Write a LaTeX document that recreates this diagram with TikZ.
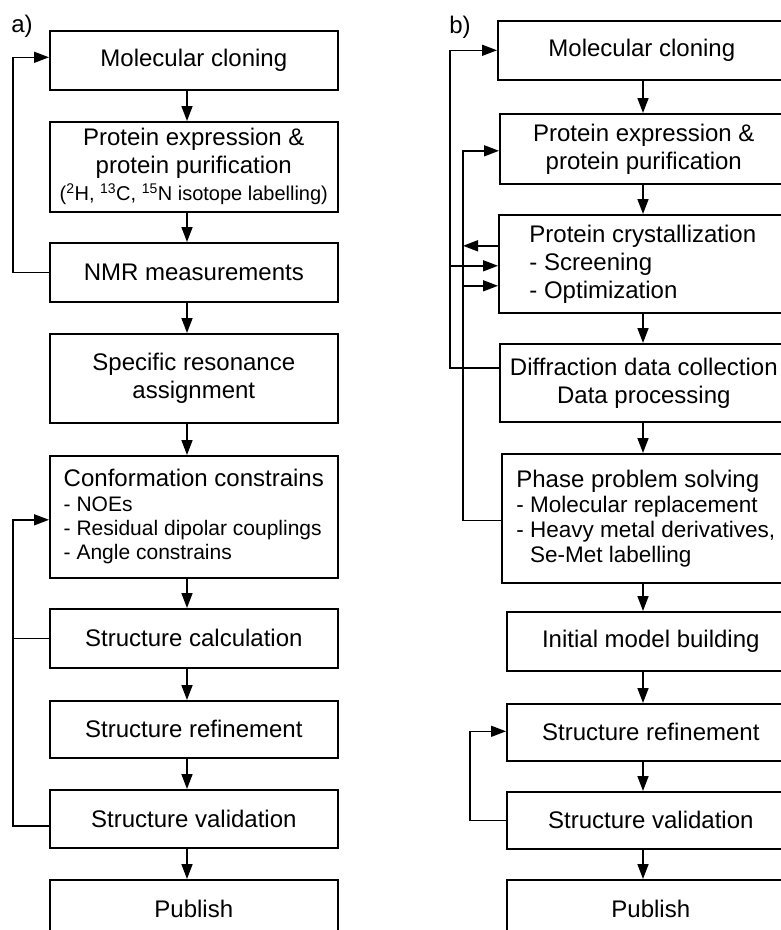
\documentclass[tikz,border=0pt]{standalone}
\usepackage{fontspec}
\setmainfont{Liberation Sans}
\usetikzlibrary{arrows.meta}
\newcommand{\nmrsub}{\fontsize{21}{24}\selectfont}
\newcommand{\xraysub}{\fontsize{22.5}{25}\selectfont}

\begin{document}
\begin{tikzpicture}[x=1pt,y=-1pt,
        box/.style={draw,line width=1.6pt,anchor=north west,minimum width=288pt,
            inner sep=0pt,align=center,font=\fontsize{24}{28}\selectfont},
        flow/.style={line width=1.6pt,-{Triangle[length=15pt,width=11pt]}},
        link/.style={line width=1.6pt}]
        \useasboundingbox (0,0) rectangle (781,930);
        \clip (0,0) rectangle (781,930);
        %% labels
        \node[font=\fontsize{24}{28}\selectfont] (la) at (22,26) {a)};
        \node[font=\fontsize{24}{28}\selectfont] (lb) at (460,27) {b)};
        %% left column (NMR)
        \node[box,minimum height=59pt] (lmc) at (49,30) {Molecular cloning};
        \node[box,minimum height=90pt] (lpe) at (49,121) {Protein expression \&\\ protein purification\\[-1pt]
            \fontsize{20}{24}\selectfont(\textsuperscript{2}H, \textsuperscript{13}C, \textsuperscript{15}N isotope labelling)};
        \node[box,minimum height=59pt] (lnmr) at (49,242) {NMR measurements};
        \node[box,minimum height=89pt] (lsra) at (49,333) {Specific resonance\\ assignment};
        \node[box,minimum height=122pt,align=left] (lcc) at (49,455) {Conformation constrains\\[-3pt]
            \nmrsub - NOEs\\[-4pt] \nmrsub - Residual dipolar couplings\\[-4pt] \nmrsub - Angle constrains};
        \node[box,minimum height=59pt] (lsc) at (49,608) {Structure calculation};
        \node[box,minimum height=57pt] (lsr) at (49,700) {Structure refinement};
        \node[box,minimum height=58pt] (lsv) at (49,789) {Structure validation};
        \node[box,minimum height=59pt] (lpub) at (49,879) {Publish};
        %% right column (X-ray)
        \node[box,minimum height=59pt] (rmc) at (497,20) {Molecular cloning};
        \node[box,minimum height=70pt] (rpe) at (499,113) {Protein expression \&\\ protein purification};
        \node[box,minimum height=98pt,align=left] (rpc) at (498,214) {Protein crystallization\\ - Screening\\ - Optimization};
        \node[box,minimum height=78pt] (rdd) at (499,343) {Diffraction data collection\\ Data processing};
        \node[box,minimum height=129pt,align=left] (rpp) at (501,453) {Phase problem solving\\[-3pt]
            \xraysub - Molecular replacement\\[-3pt] \xraysub - Heavy metal derivatives,\\[-3pt] \xraysub \hphantom{- }Se-Met labelling};
        \node[box,minimum height=59pt] (rim) at (506,611) {Initial model building};
        \node[box,minimum height=57pt] (rsr) at (506,703) {Structure refinement};
        \node[box,minimum height=57pt] (rsv) at (506,791) {Structure validation};
        \node[box,minimum height=59pt] (rpub) at (506,879) {Publish};
        %% feedback buses and arrow lanes
        \coordinate (lbus) at (13,0);
        \coordinate (obus) at (450,0);
        \coordinate (ibus) at (463,0);
        \coordinate (sbus) at (470,0);
        \coordinate (lax) at (187,0);
        \coordinate (rax) at (643,0);
        %% left arrows
        \foreach \a/\b in {lmc/lpe,lpe/lnmr,lnmr/lsra,lsra/lcc,lcc/lsc,lsc/lsr,lsr/lsv,lsv/lpub}
            \draw[flow] (\a.south -| lax) -- (\b.north -| lax);
        \draw[flow] (lnmr.west) -| (lbus |- lnmr.west) |- ([yshift=3pt]lmc.west);
        \draw[flow] ([yshift=-7pt]lsv.west) -| (lbus |- lsv.west) |- ([yshift=-3pt]lcc.west);
        \draw[link] (lsc.west) -- (lsc.west -| lbus);
        %% right arrows
        \foreach \a/\b in {rmc/rpe,rpe/rpc,rpc/rdd,rdd/rpp,rpp/rim,rim/rsr,rsr/rsv,rsv/rpub}
            \draw[flow] (\a.south -| rax) -- (\b.north -| rax);
        \draw[flow] ([yshift=15pt]rdd.west) -- ([yshift=15pt]rdd.west -| obus) |- (rmc.west);
        \draw[flow] ([yshift=-2pt]rpc.west -| obus) -- ([yshift=-2pt]rpc.west);
        \draw[flow] ([yshift=-2pt]rpp.west) -- ([yshift=-2pt]rpp.west -| ibus) |- ([yshift=-2pt]rpe.west);
        \draw[flow] ([yshift=-22pt]rpc.west -| ibus) -- ([yshift=-22pt]rpc.west);
        \draw[flow] ([yshift=18pt]rpc.west) -- ([yshift=18pt]rpc.west -| ibus);
        \draw[flow] (rsv.west) -- (rsv.west -| sbus) |- ([yshift=1pt]rsr.west);
    \end{tikzpicture}
\end{document}
